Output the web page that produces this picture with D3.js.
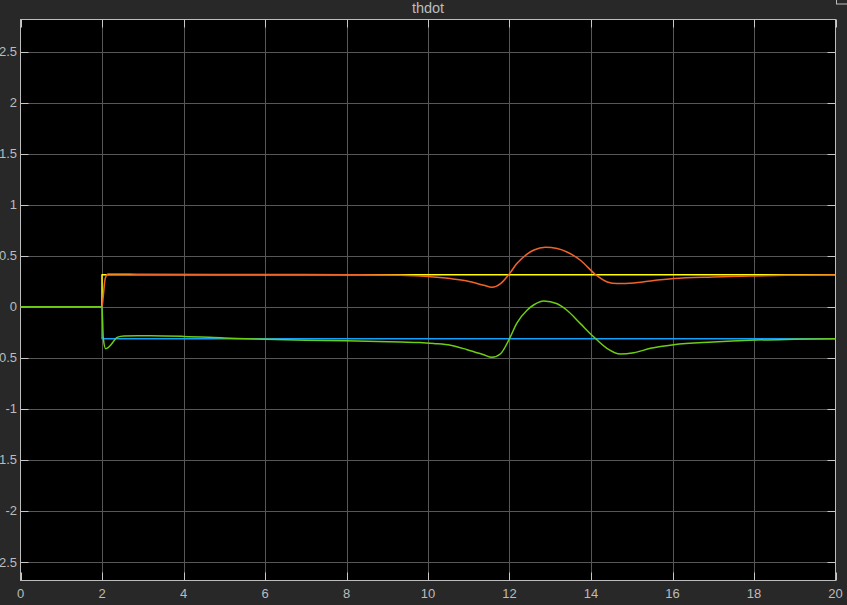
<!DOCTYPE html>
<html>
<head>
<meta charset="utf-8">
<script src="https://cdn.jsdelivr.net/npm/d3@7"></script>
<style>
html,body{margin:0;padding:0;background:#282828;}
svg{display:block;}
</style>
</head>
<body>
<svg id="chart" width="847" height="605"></svg>
<script>
// ---- data ----
const title = "thdot";
const xTicks = [0,2,4,6,8,10,12,14,16,18,20];
const yTicks = [-2.5,-2,-1.5,-1,-0.5,0,0.5,1,1.5,2,2.5];

const refTime = [0, 2, 2, 20];
const yellowVals = [0, 0, 0.3142, 0.3142];
const blueVals = [0, 0, -0.3142, -0.3142];

const orangeTime = [0, 2, 2.03, 2.08, 2.15, 2.3, 3, 6, 8, 9.33, 10.14, 10.55, 10.96, 11.37, 11.57, 11.78, 12.0, 12.18, 12.43, 12.6, 12.88, 13.17, 13.41, 13.74, 14.11, 14.4, 14.64, 15.05, 15.46, 16.03, 17, 17.9, 19, 20];
const orangeVals = [0, 0, 0.1, 0.28, 0.322, 0.322, 0.318, 0.316, 0.314, 0.31, 0.292, 0.276, 0.253, 0.211, 0.191, 0.227, 0.325, 0.423, 0.515, 0.556, 0.583, 0.57, 0.537, 0.456, 0.316, 0.243, 0.227, 0.233, 0.253, 0.276, 0.292, 0.302, 0.309, 0.312];

const greenTime = [0, 2, 2.03, 2.09, 2.15, 2.21, 2.3, 2.37, 2.54, 3.19, 4, 5, 6, 7, 8, 9.33, 9.8, 10.14, 10.55, 10.96, 11.37, 11.57, 11.78, 12.0, 12.18, 12.43, 12.6, 12.84, 13.17, 13.41, 13.74, 14.07, 14.4, 14.72, 15.05, 15.46, 16.03, 17, 17.9, 19, 20];
const greenVals = [0, 0, -0.3, -0.41, -0.4, -0.377, -0.33, -0.3, -0.286, -0.284, -0.29, -0.305, -0.319, -0.327, -0.332, -0.345, -0.35, -0.36, -0.377, -0.42, -0.47, -0.495, -0.46, -0.312, -0.16, -0.034, 0.02, 0.057, 0.03, -0.034, -0.165, -0.296, -0.41, -0.463, -0.45, -0.407, -0.371, -0.345, -0.328, -0.318, -0.312];

// ---- layout ----
const L = 20.5, R = 835.5, T = 19.5, B = 580.5;
const svg = d3.select("#chart");
const x = d3.scaleLinear().domain([0, 20]).range([L, R]);
const y = d3.scaleLinear().domain([-2.681, 2.814]).range([B, T]);

svg.append("rect").attr("width", 847).attr("height", 605).attr("fill", "#282828");
svg.append("rect").attr("x", L).attr("y", T).attr("width", R - L).attr("height", B - T).attr("fill", "#000");

// grid
const gridColor = "#575757";
svg.append("g").selectAll("line").data(xTicks.slice(1, -1)).join("line")
  .attr("x1", d => Math.round(x(d)) + 0.5).attr("x2", d => Math.round(x(d)) + 0.5)
  .attr("y1", T).attr("y2", B).attr("stroke", gridColor).attr("stroke-width", 1);
svg.append("g").selectAll("line").data(yTicks).join("line")
  .attr("y1", d => Math.round(y(d)) + 0.5).attr("y2", d => Math.round(y(d)) + 0.5)
  .attr("x1", L).attr("x2", R).attr("stroke", gridColor).attr("stroke-width", 1);

// tick marks on all sides (inward)
const tickColor = "#c8c8c8", tl = 8;
const tg = svg.append("g").attr("stroke", tickColor).attr("stroke-width", 1);
xTicks.forEach(d => {
  const px = Math.round(x(d)) + 0.5;
  tg.append("line").attr("x1", px).attr("x2", px).attr("y1", B).attr("y2", B - tl);
  tg.append("line").attr("x1", px).attr("x2", px).attr("y1", T).attr("y2", T + tl);
});
yTicks.forEach(d => {
  const py = Math.round(y(d)) + 0.5;
  tg.append("line").attr("y1", py).attr("y2", py).attr("x1", L).attr("x2", L + tl);
  tg.append("line").attr("y1", py).attr("y2", py).attr("x1", R).attr("x2", R - tl);
});

// frame
svg.append("rect").attr("x", L).attr("y", T).attr("width", R - L).attr("height", B - T)
  .attr("fill", "none").attr("stroke", "#bdbdbd").attr("stroke-width", 1);

// labels
const font = "'Liberation Sans', Arial, sans-serif";
const labColor = "#bcbcbc";
svg.append("g").selectAll("text").data(xTicks).join("text")
  .attr("x", d => x(d)).attr("y", 597.5).attr("text-anchor", "middle")
  .attr("font-family", font).attr("font-size", 13).attr("fill", labColor)
  .text(d => d);
svg.append("g").selectAll("text").data(yTicks).join("text")
  .attr("x", 17).attr("y", d => y(d) + 4.5).attr("text-anchor", "end")
  .attr("font-family", font).attr("font-size", 13).attr("fill", labColor)
  .text(d => d);

svg.append("text").attr("x", (L + R) / 2).attr("y", 13).attr("text-anchor", "middle")
  .attr("font-family", font).attr("font-size", 14.5).attr("fill", labColor).text(title);

// small icon at top right
svg.append("rect").attr("x", 836.5).attr("y", -3).attr("width", 12).attr("height", 7)
  .attr("fill", "none").attr("stroke", "#bdbdbd").attr("stroke-width", 1);

// lines
const clip = svg.append("clipPath").attr("id", "clip").append("rect")
  .attr("x", L).attr("y", T).attr("width", R - L).attr("height", B - T);
const lg = svg.append("g").attr("clip-path", "url(#clip)");

function addLine(ts, vs, color, curve) {
  const pts = ts.map((t, i) => [t, vs[i]]);
  const line = d3.line().x(d => x(d[0])).y(d => y(d[1])).curve(curve);
  lg.append("path").attr("d", line(pts)).attr("fill", "none")
    .attr("stroke", color).attr("stroke-width", 1.5).attr("stroke-linejoin", "round");
}
addLine(refTime, yellowVals, "#ffff00", d3.curveLinear);
addLine(refTime, blueVals, "#12a0ff", d3.curveLinear);
addLine(orangeTime, orangeVals, "#f06428", d3.curveMonotoneX);
addLine(greenTime, greenVals, "#6dcc14", d3.curveMonotoneX);
</script>
</body>
</html>
